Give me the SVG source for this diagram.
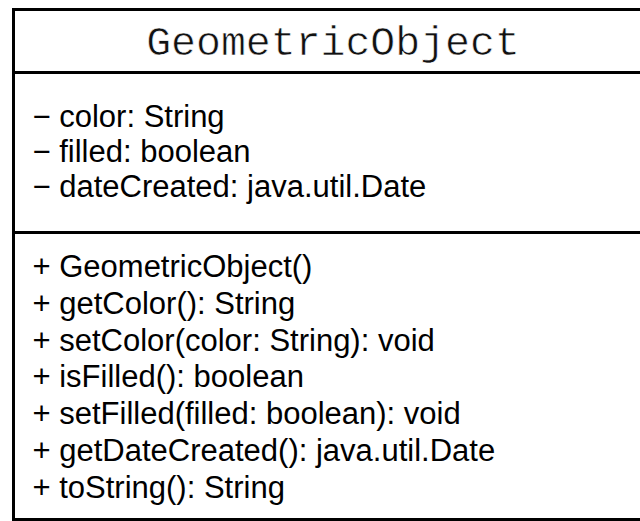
<svg xmlns="http://www.w3.org/2000/svg" width="640" height="521" viewBox="0 0 640 521">
  <style>
    .frame { fill: none; stroke: #000; stroke-width: 3; }
    .title { font-family: "Liberation Mono", "Courier New", monospace; font-size: 41.5px; fill: #111; stroke: #fff; stroke-width: 0.6; }
    .member { font-family: "Liberation Sans", Arial, sans-serif; font-size: 31px; fill: #000; }
  </style>
  <rect width="640" height="521" fill="#fff"/>
  <g id="GeometricObject">
    <!-- class box, open past the right edge -->
    <path class="frame" d="M660 9.5 H13.5 V519.5 H660"/>
    <line class="frame" x1="13.5" y1="72.5" x2="660" y2="72.5"/>
    <line class="frame" x1="13.5" y1="232.5" x2="660" y2="232.5"/>
    <text class="title" x="333" y="55" text-anchor="middle">GeometricObject</text>
    <!-- attributes -->
    <text class="member" x="32.5" y="127">− color: String</text>
    <text class="member" x="32.5" y="162">− filled: boolean</text>
    <text class="member" x="32.5" y="197">− dateCreated: java.util.Date</text>
    <!-- operations -->
    <text class="member" x="32.5" y="277">+ GeometricObject()</text>
    <text class="member" x="32.5" y="314">+ getColor(): String</text>
    <text class="member" x="32.5" y="351">+ setColor(color: String): void</text>
    <text class="member" x="32.5" y="387">+ isFilled(): boolean</text>
    <text class="member" x="32.5" y="424">+ setFilled(filled: boolean): void</text>
    <text class="member" x="32.5" y="461">+ getDateCreated(): java.util.Date</text>
    <text class="member" x="32.5" y="498">+ toString(): String</text>
  </g>
  <g id="connectors"></g>
</svg>
